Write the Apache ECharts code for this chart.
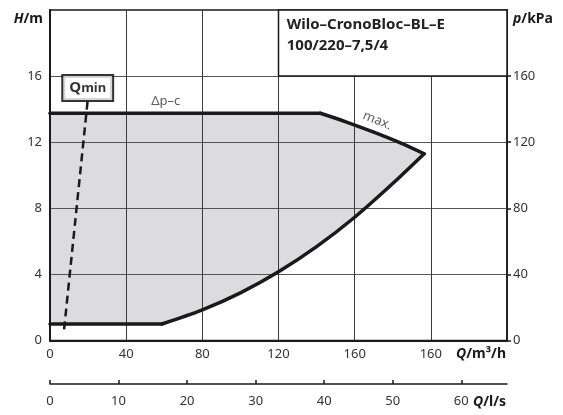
<!DOCTYPE html>
<html>
<head>
<meta charset="utf-8">
<script src="https://cdn.jsdelivr.net/npm/echarts@6/dist/echarts.min.js"></script>
<style>
html, body { margin: 0; padding: 0; background: #fff; }
#pumpChart { width: 563px; height: 415px; }
</style>
</head>
<body>
<div id="pumpChart"></div>
<script>
// tick labels as printed on the sheet (the second "160" is in the original)
var flowTicks = ['0', '40', '80', '120', '160', '160', ''];
var headTicks = ['0', '4', '8', '12', '16', ''];
var pressTicks = ['0', '40', '80', '120', '160', ''];
var litreTicks = [0, 10, 20, 30, 40, 50, 60];

// Q [m3/h], H [m]
var dpcLine = [[0, 13.75], [142, 13.75]];
var maxCurve = [[142, 13.75], [155, 13.25], [170, 12.61], [184, 11.96], [196.5, 11.3]];
var minCurve = [[196.5, 11.3], [180, 9.5], [160, 7.46], [140, 5.68], [120, 4.16], [100, 2.88], [80, 1.85], [58.8, 1.0]];
var minLine = [[58.8, 1.0], [0, 1.0]];
var qminLine = [[7.4, 0.67], [19.8, 14.55]];

var outline = dpcLine.concat(maxCurve.slice(1), minCurve.slice(1), minLine.slice(1));

var font = 'Noto Sans';
var ink = '#1a1a1a';

var myChart = echarts.init(document.getElementById('pumpChart'));

function curve(data, smooth) {
    return {
        type: 'line',
        data: data,
        smooth: smooth,
        symbol: 'none',
        silent: true,
        z: 3,
        lineStyle: { color: ink, width: 3.5, cap: 'round', join: 'round' }
    };
}

function unitText(main, rest, x, y, align) {
    return {
        type: 'text', x: x, y: y,
        style: {
            text: '{i|' + main + '}{n|' + rest + '}', align: align, verticalAlign: 'middle',
            rich: {
                i: { fontFamily: font, fontSize: 14, fontWeight: 'bold', fontStyle: 'italic', fill: ink },
                n: { fontFamily: font, fontSize: 14, fontWeight: 'bold', fill: ink }
            }
        }
    };
}

var option = {
    animation: false,
    textStyle: { fontFamily: font },
    grid: [
        { left: 50, right: 56, top: 10, bottom: 74.5, show: true, borderColor: ink, borderWidth: 1.5 },
        { left: 50, right: 56, top: 383, height: 1 }
    ],
    xAxis: [
        {
            type: 'value', gridIndex: 0, min: 0, max: 240, interval: 40,
            axisLine: { lineStyle: { color: ink, width: 2 } },
            axisTick: { show: false },
            axisLabel: {
                color: '#333', fontSize: 13, margin: 7,
                formatter: function (v) { return flowTicks[Math.round(v / 40)] || ''; }
            },
            splitLine: { show: true, lineStyle: { color: '#3a3a3a', width: 1 } }
        },
        {
            type: 'value', gridIndex: 1, min: 0, max: 240 / 3.6,
            axisLine: { lineStyle: { color: ink, width: 1.5 } },
            axisTick: { inside: true, length: 4, customValues: litreTicks, lineStyle: { color: ink, width: 1.5 } },
            axisLabel: { color: '#333', fontSize: 13, margin: 11, customValues: litreTicks },
            splitLine: { show: false }
        }
    ],
    yAxis: [
        {
            type: 'value', gridIndex: 0, min: 0, max: 20, interval: 4,
            axisLine: { show: true, lineStyle: { color: ink, width: 2 } },
            axisTick: { show: false },
            axisLabel: {
                color: '#333', fontSize: 13, margin: 8,
                formatter: function (v) { return headTicks[Math.round(v / 4)] || ''; }
            },
            splitLine: { show: true, lineStyle: { color: '#555', width: 1 } }
        },
        {
            type: 'value', gridIndex: 0, position: 'right', min: 0, max: 200, interval: 40,
            axisLine: { show: true, lineStyle: { color: ink, width: 1.5 } },
            axisTick: { show: true, length: 4, customValues: [0, 40, 80, 120, 160], lineStyle: { color: ink, width: 1.5 } },
            axisLabel: {
                color: '#333', fontSize: 13, margin: 6,
                formatter: function (v) { return pressTicks[Math.round(v / 40)] || ''; }
            },
            splitLine: { show: false }
        },
        { type: 'value', gridIndex: 1, show: false }
    ],
    graphic: [
        unitText('H', '/m', 43, 19, 'right'),
        unitText('p', '/kPa', 513, 19, 'left'),
        unitText('Q', '/m³/h', 506, 354, 'right'),
        unitText('Q', '/l/s', 506, 402, 'right')
    ],
    series: [
        {
            // shaded operating range, kept under the grid lines
            type: 'custom',
            z: -1,
            silent: true,
            data: [[0, 0]],
            renderItem: function (params, api) {
                var pts = outline.map(function (p) { return api.coord(p); });
                return { type: 'polygon', shape: { points: pts }, style: { fill: '#dcdcdf' } };
            }
        },
        curve(dpcLine, false),
        curve(maxCurve, 0.3),
        curve(minCurve, 0.3),
        curve(minLine, false),
        {
            type: 'line',
            data: qminLine,
            symbol: 'none',
            silent: true,
            z: 3,
            lineStyle: { color: ink, width: 2.5, type: [8, 5] },
            markArea: {
                silent: true,
                itemStyle: { color: '#fff', borderColor: ink, borderWidth: 1.5 },
                label: {
                    show: true,
                    position: 'insideTopLeft',
                    distance: 5,
                    padding: [0, 0, 0, 4],
                    formatter: '{a|Wilo–CronoBloc–BL–E}\n{a|100/220–7,5/4}',
                    rich: { a: { fontFamily: font, fontSize: 15, fontWeight: 'bold', color: '#222', lineHeight: 21 } }
                },
                data: [[{ coord: [120, 16] }, { coord: [240, 20] }]]
            }
        },
        {
            type: 'scatter',
            symbolSize: 0,
            silent: true,
            z: 6,
            itemStyle: { color: ink },
            label: { show: true, position: 'inside', color: '#333', fontSize: 13, textBorderWidth: 0 },
            data: [
                { value: [60.8, 14.45], label: { formatter: 'Δp–c' } },
                { value: [171.9, 13.3], label: { formatter: 'max.', rotate: -22 } },
                { value: [19.8, 15.28], label: {
                    formatter: '{q|Q}{m|min}',
                    backgroundColor: '#fff', borderColor: '#000', borderWidth: 2, padding: [3, 6],
                    rich: {
                        q: { fontSize: 15, fontWeight: 'bold', color: '#000', lineHeight: 18, textBorderWidth: 0 },
                        m: { fontSize: 13, fontWeight: 'bold', color: '#000', lineHeight: 18, textBorderWidth: 0 }
                    }
                } }
            ]
        }
    ]
};
myChart.setOption(option);
</script>
</body>
</html>
